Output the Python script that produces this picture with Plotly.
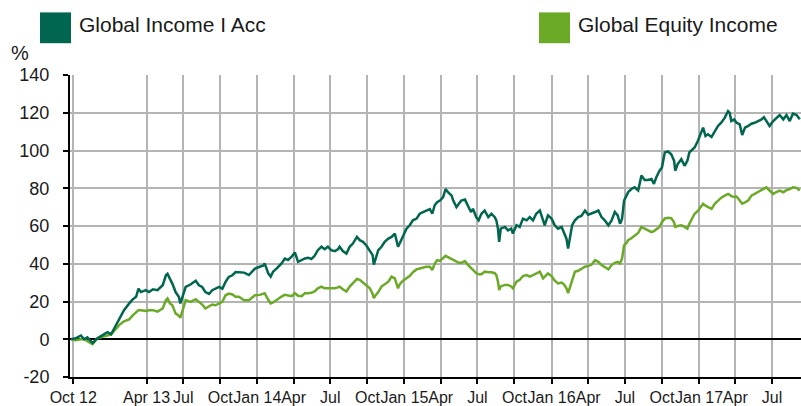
import plotly.graph_objects as go

# Cumulative performance (%) of the two funds
dates = [
    "2012-09-26", "2012-10-07", "2012-10-20", "2012-10-28", "2012-11-05", "2012-11-18",
    "2012-11-30", "2012-12-13", "2012-12-25", "2013-01-03", "2013-01-11", "2013-01-23",
    "2013-02-04", "2013-02-17", "2013-02-25", "2013-03-06", "2013-03-12", "2013-03-18",
    "2013-03-30", "2013-04-07", "2013-04-17", "2013-04-28", "2013-05-11", "2013-05-19",
    "2013-05-23", "2013-05-29", "2013-06-04", "2013-06-12", "2013-06-20", "2013-06-24",
    "2013-06-30", "2013-07-07", "2013-07-19", "2013-08-01", "2013-08-09", "2013-08-17",
    "2013-08-25", "2013-09-03", "2013-09-11", "2013-09-19", "2013-09-28", "2013-10-06",
    "2013-10-14", "2013-10-22", "2013-10-31", "2013-11-08", "2013-11-16", "2013-11-29",
    "2013-12-11", "2013-12-19", "2013-12-26", "2014-01-07", "2014-01-15", "2014-01-19",
    "2014-01-28", "2014-02-03", "2014-02-09", "2014-02-18", "2014-03-02", "2014-03-10",
    "2014-03-18", "2014-03-27", "2014-04-04", "2014-04-12", "2014-04-21", "2014-04-29",
    "2014-05-07", "2014-05-15", "2014-05-23", "2014-05-31", "2014-06-09", "2014-06-17",
    "2014-06-25", "2014-07-03", "2014-07-12", "2014-07-20", "2014-07-24", "2014-08-01",
    "2014-08-10", "2014-08-18", "2014-08-26", "2014-09-05", "2014-09-12", "2014-09-20",
    "2014-09-28", "2014-10-07", "2014-10-14", "2014-10-17", "2014-10-22", "2014-10-28",
    "2014-11-05", "2014-11-13", "2014-11-22", "2014-11-30", "2014-12-08", "2014-12-16",
    "2014-12-20", "2014-12-28", "2015-01-06", "2015-01-14", "2015-01-22", "2015-01-31",
    "2015-02-08", "2015-02-16", "2015-02-24", "2015-03-05", "2015-03-11", "2015-03-17",
    "2015-03-23", "2015-03-30", "2015-04-07", "2015-04-13", "2015-04-19", "2015-04-28",
    "2015-05-02", "2015-05-10", "2015-05-16", "2015-05-22", "2015-05-31", "2015-06-08",
    "2015-06-15", "2015-06-20", "2015-06-28", "2015-07-04", "2015-07-11", "2015-07-19",
    "2015-07-28", "2015-08-05", "2015-08-13", "2015-08-17", "2015-08-21", "2015-08-24",
    "2015-08-28", "2015-09-07", "2015-09-15", "2015-09-23", "2015-09-27", "2015-10-06",
    "2015-10-14", "2015-10-22", "2015-10-31", "2015-11-08", "2015-11-16", "2015-11-24",
    "2015-12-03", "2015-12-11", "2015-12-15", "2015-12-23", "2016-01-01", "2016-01-09",
    "2016-01-17", "2016-01-26", "2016-02-01", "2016-02-07", "2016-02-11", "2016-02-15",
    "2016-02-21", "2016-02-28", "2016-03-07", "2016-03-15", "2016-03-24", "2016-04-01",
    "2016-04-09", "2016-04-18", "2016-04-26", "2016-05-04", "2016-05-12", "2016-05-21",
    "2016-05-29", "2016-06-06", "2016-06-13", "2016-06-19", "2016-06-24", "2016-06-29",
    "2016-07-05", "2016-07-09", "2016-07-17", "2016-07-25", "2016-08-03", "2016-08-11",
    "2016-08-19", "2016-08-27", "2016-09-05", "2016-09-11", "2016-09-17", "2016-09-25",
    "2016-10-01", "2016-10-08", "2016-10-16", "2016-10-24", "2016-10-31", "2016-11-03",
    "2016-11-09", "2016-11-18", "2016-11-26", "2016-12-03", "2016-12-08", "2016-12-21",
    "2016-12-29", "2017-01-07", "2017-01-11", "2017-01-17", "2017-01-23", "2017-02-01",
    "2017-02-09", "2017-02-17", "2017-02-25", "2017-03-06", "2017-03-14", "2017-03-18",
    "2017-03-22", "2017-03-29", "2017-04-04", "2017-04-12", "2017-04-18", "2017-04-25",
    "2017-05-03", "2017-05-11", "2017-05-19", "2017-05-28", "2017-06-05", "2017-06-11",
    "2017-06-17", "2017-06-25", "2017-07-04", "2017-07-12", "2017-07-20", "2017-07-29",
    "2017-08-06", "2017-08-14", "2017-08-22", "2017-08-31", "2017-09-08",
]

income = [
    0, 0.5, 2, 0, 1, -2,
    0.5, 2, 3.7, 2.6, 5.8, 10,
    15.4, 19, 21, 22.5, 26.8, 25,
    26, 25, 26.5, 26, 28.6, 33.9,
    34.7, 32, 29.5, 25, 22.5, 19,
    22.5, 27.7, 29, 31, 28.6, 27.7,
    25, 24, 26, 26.8, 27.7, 26.8,
    30.4, 33, 33.9, 35.6, 35.6, 35.3,
    34, 36, 37.4, 38.4, 39, 40.2,
    34.9, 33.2, 35.8, 37.5, 40.2, 42.8,
    42, 43.7, 46, 41, 42, 42.8,
    43.2, 42.5, 44.2, 47.2, 49, 47.7,
    49, 47.2, 46.7, 47.7, 49, 46.7,
    45.4, 49, 50.7, 54.2, 52.5, 51.6,
    49.8, 47.2, 44.6, 39.6, 43.7, 47.2,
    49, 51.6, 53.3, 54.2, 56, 49,
    50.7, 54.2, 58.6, 60.4, 63, 63.9,
    66.5, 67.4, 68.2, 69, 66.5, 71,
    72.6, 73.5, 75.3, 79.6, 77.9, 76.1,
    73.5, 70, 71.8, 73.5, 74, 70,
    67.4, 69.1, 64.7, 63, 66.5, 68.2,
    64.7, 66.5, 64.7, 63, 58.6, 51.6,
    58.6, 59.5, 57.7, 58.6, 56, 60.4,
    59.5, 63.9, 63, 64.7, 63, 66.5,
    68.2, 63, 60.4, 65.6, 63.9, 60.4,
    58.6, 59.5, 56.8, 53.3, 48, 53.3,
    60.4, 63, 64.7, 65.3, 68.2, 66,
    66.5, 67.4, 68.2, 64.7, 63, 60.4,
    63, 67.4, 65.6, 61.2, 63.9, 73.5,
    76.1, 77.9, 79.6, 80.5, 78.8, 86.7,
    84.4, 84.4, 84.9, 82.3, 85.8, 89.3,
    91, 99, 99.5, 98, 94.6, 89.3,
    92.8, 95.4, 91.9, 94.6, 99, 101.6,
    105, 109.5, 112.1, 107.7, 108.6, 107.2,
    110.4, 113, 114.7, 117.4, 120.9, 120,
    115.6, 116.5, 114.7, 113.9, 108.2, 112.1,
    113, 114.2, 114.7, 115.6, 116.5, 117.7,
    115.6, 113, 115.6, 117, 118.8, 116.5,
    118.8, 115.6, 119.5, 118.8, 116.5,
]

equity = [
    0, -0.5, 0, 0, -1, -2.6,
    0.5, 1.4, 2.3, 2.6, 4.5, 7.5,
    9.5, 10.5, 12.5, 14, 15.4, 15.4,
    15, 15.4, 15.4, 14.6, 16.3, 20.7,
    21.6, 19, 18, 13.7, 12.5, 11.4,
    16.3, 20.7, 19.8, 21.2, 19.8, 18.4,
    16.3, 17.2, 18.4, 18, 19, 19.8,
    23.3, 24.2, 23.7, 22.5, 22.5, 20.7,
    20.7, 22, 23.3, 23.5, 24, 24.4,
    20.9, 19, 19.5, 21, 22.6, 23.5,
    23, 22.8, 24.4, 23, 22.8, 24.4,
    24.4, 24.6, 25.3, 27, 27.9, 27,
    27, 27, 27, 27.5, 27.9, 26.5,
    25.3, 27.9, 29.5, 32, 31.5, 30,
    28.8, 27, 24, 21.8, 23.5, 25,
    27.9, 29, 30.5, 33.2, 32.3, 27,
    29, 31, 32.3, 33.5, 35.5, 37,
    37.5, 38, 38.4, 38.4, 36.7, 40,
    41.9, 41.5, 43, 44.2, 43.5, 42.5,
    42, 41, 40.5, 40.5, 41.4, 39.3,
    38, 36.7, 35, 34.5, 34.5, 35.8,
    35.5, 35.5, 35, 34, 30.5, 26.1,
    28, 28.8, 28.8, 28, 27, 30.5,
    31.5, 33.5, 34, 33.2, 34, 34.9,
    35.8, 32.3, 33, 34.9, 33.5, 31,
    29.6, 30, 29, 27, 24.4, 27,
    31, 35.8, 36.3, 37.5, 38.4, 38.9,
    39.5, 41.9, 41, 39.3, 38, 37,
    39.3, 40.5, 41, 40.2, 42.8, 49.8,
    51, 52.5, 53.5, 55, 56.3, 59.5,
    58.5, 57.5, 56.8, 57.3, 58.1, 59.5,
    62, 64, 64.4, 64.2, 62, 59.5,
    60, 60.4, 59.5, 58.6, 61.2, 66.5,
    68, 70.5, 71.8, 70.8, 70, 69.1,
    71.8, 73.5, 75, 76.1, 77, 76.5,
    75.8, 75.4, 75.6, 73.5, 71.8, 72.5,
    73.5, 76.1, 77, 78, 78.8, 79.8,
    80.5, 78.8, 77, 78, 78.8, 77.9,
    79, 79.6, 80.5, 80.2, 78.8,
]

series_names = ["Global Income I Acc", "Global Equity Income"]
series_colors = ["#00664f", "#6aaa27"]

tick_dates = [
    "2012-10-01", "2013-04-01", "2013-07-01", "2013-10-01", "2014-01-01",
    "2014-04-01", "2014-07-01", "2014-10-01", "2015-01-01", "2015-04-01",
    "2015-07-01", "2015-10-01", "2016-01-01", "2016-04-01", "2016-07-01",
    "2016-10-01", "2017-01-01", "2017-04-01", "2017-07-01",
]
tick_text = [
    "Oct 12", "Apr 13", "Jul", "Oct", "Jan 14",
    "Apr", "Jul", "Oct", "Jan 15", "Apr",
    "Jul", "Oct", "Jan 16", "Apr", "Jul",
    "Oct", "Jan 17", "Apr", "Jul",
]
y_ticks = [-20, 0, 20, 40, 60, 80, 100, 120, 140]
y_tick_text = ["-20", "0", "20", "40", "60", "80", "100", "120", "140"]

W, H = 801, 406
M_L, M_R, M_T, M_B = 70, 0, 75, 27
FONT = "Arial, Liberation Sans, sans-serif"
GRID = "#b4b4b4"


def px_x(x):
    return (x - M_L) / (W - M_L - M_R)


def px_y(y):
    return (H - M_B - y) / (H - M_T - M_B)


fig = go.Figure()
fig.add_trace(go.Scatter(x=dates, y=equity, mode="lines", name=series_names[1],
                         line=dict(color=series_colors[1], width=2.5), showlegend=False))
fig.add_trace(go.Scatter(x=dates, y=income, mode="lines", name=series_names[0],
                         line=dict(color=series_colors[0], width=2.5), showlegend=False))

# Legend: coloured squares with labels across the top
legend_items = [(40, series_names[0], series_colors[0]), (539, series_names[1], series_colors[1])]
shapes = []
annotations = []
for x0, name, col in legend_items:
    shapes.append(dict(type="rect", xref="paper", yref="paper",
                       x0=px_x(x0), x1=px_x(x0 + 31), y0=px_y(43), y1=px_y(12),
                       fillcolor=col, line=dict(width=0)))
    annotations.append(dict(text=name, xref="paper", yref="paper", x=px_x(x0 + 37), y=px_y(24),
                            xanchor="left", yanchor="middle", showarrow=False,
                            font=dict(family=FONT, size=21, color="#1a1a1a")))
annotations.append(dict(text="%", xref="paper", yref="paper", x=px_x(9), y=px_y(53),
                        xanchor="left", yanchor="middle", showarrow=False,
                        font=dict(family=FONT, size=20, color="#1a1a1a")))

fig.update_layout(
    width=W, height=H, autosize=False,
    margin=dict(l=M_L, r=M_R, t=M_T, b=M_B, pad=0),
    paper_bgcolor="white", plot_bgcolor="white",
    font=dict(family=FONT, size=16, color="#1a1a1a"),
    shapes=shapes, annotations=annotations,
    xaxis=dict(
        type="date", range=["2012-09-23", "2017-09-11"],
        tickmode="array", tickvals=tick_dates, ticktext=tick_text, tickangle=0,
        showgrid=True, gridcolor=GRID, gridwidth=2,
        showline=True, linecolor="black", linewidth=2,
        ticks="outside", ticklen=5, tickwidth=2, tickcolor="black",
        tickfont=dict(size=16), zeroline=False,
    ),
    yaxis=dict(
        range=[-20, 140], tickmode="array", tickvals=y_ticks, ticktext=y_tick_text,
        showgrid=True, gridcolor=GRID, gridwidth=2,
        zeroline=True, zerolinecolor="black", zerolinewidth=2,
        showline=True, linecolor="black", linewidth=2,
        ticks="outside", ticklen=5, tickwidth=2, tickcolor="black",
        tickfont=dict(size=18), ticklabelstandoff=10,
    ),
)

fig.write_html("out.html")
